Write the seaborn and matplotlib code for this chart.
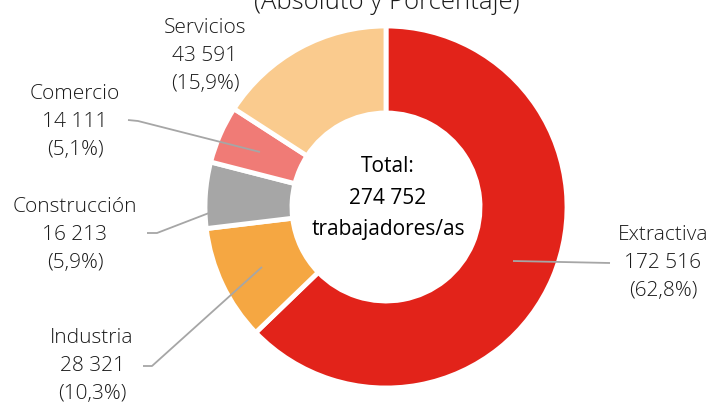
import matplotlib
matplotlib.use("Agg")
import matplotlib.pyplot as plt
import seaborn as sns

sns.set_theme(style="white")
plt.rcParams['font.family'] = ['Open Sans', 'DejaVu Sans']

categories = ["Extractiva", "Industria", "Construcción", "Comercio", "Servicios"]
values = [172516, 28321, 16213, 14111, 43591]
pct_labels = ["62,8%", "10,3%", "5,9%", "5,1%", "15,9%"]
value_labels = ["172 516", "28 321", "16 213", "14 111", "43 591"]
colors = sns.color_palette(["#E2231A", "#F5A742", "#A6A6A6", "#F07B76", "#FACB8E"])
title = "(Absoluto y Porcentaje)"
total_text = "Total:\n274 752\ntrabajadores/as"

W, H = 714, 405
fig = plt.figure(figsize=(W / 100, H / 100), dpi=100)
ax = fig.add_axes([0, 0, 1, 1])
ax.set_xlim(0, W)
ax.set_ylim(0, H)
ax.set_aspect("equal")
ax.axis("off")

cx, cy, R = 386, H - 207, 181
ax.pie(values, radius=R, center=(cx, cy), startangle=90, counterclock=False,
       colors=colors, explode=[0.015] * 5,
       wedgeprops=dict(width=87, linewidth=3.5, edgecolor="white"))
ax.set_xlim(0, W)
ax.set_ylim(0, H)

# label placements (text center, leader line points in screen px)
label_pos = {
    "Extractiva": (663, 263, [(513, 261), (610, 263)]),
    "Industria": (92, 366, [(262, 267), (152, 366), (143, 366)]),
    "Construcción": (75, 235, [(248, 198), (157, 233), (147, 233)]),
    "Comercio": (75, 122, [(260, 152), (138, 121), (128, 120)]),
    "Servicios": (205, 56, None),
}
for cat, val, pct in zip(categories, value_labels, pct_labels):
    tx, ty, line = label_pos[cat]
    if line:
        xs = [p[0] for p in line]
        ys = [H - p[1] for p in line]
        ax.plot(xs, ys, color="#A6A6A6", lw=1.3, solid_capstyle="butt")
    ax.text(tx, H - ty, f"{cat}\n{val}\n({pct})", ha="center", va="center",
            fontsize=15, color="#1a1a1a", linespacing=1.56, fontweight="light")

ax.text(388, H - 198, total_text, ha="center", va="center", fontsize=15,
        color="black", linespacing=1.68)

ax.text(387, H - 9, title, ha="center", va="baseline", fontsize=18.5,
        color="#1a1a1a", fontweight="light")

fig.savefig("out.png", dpi=100)
